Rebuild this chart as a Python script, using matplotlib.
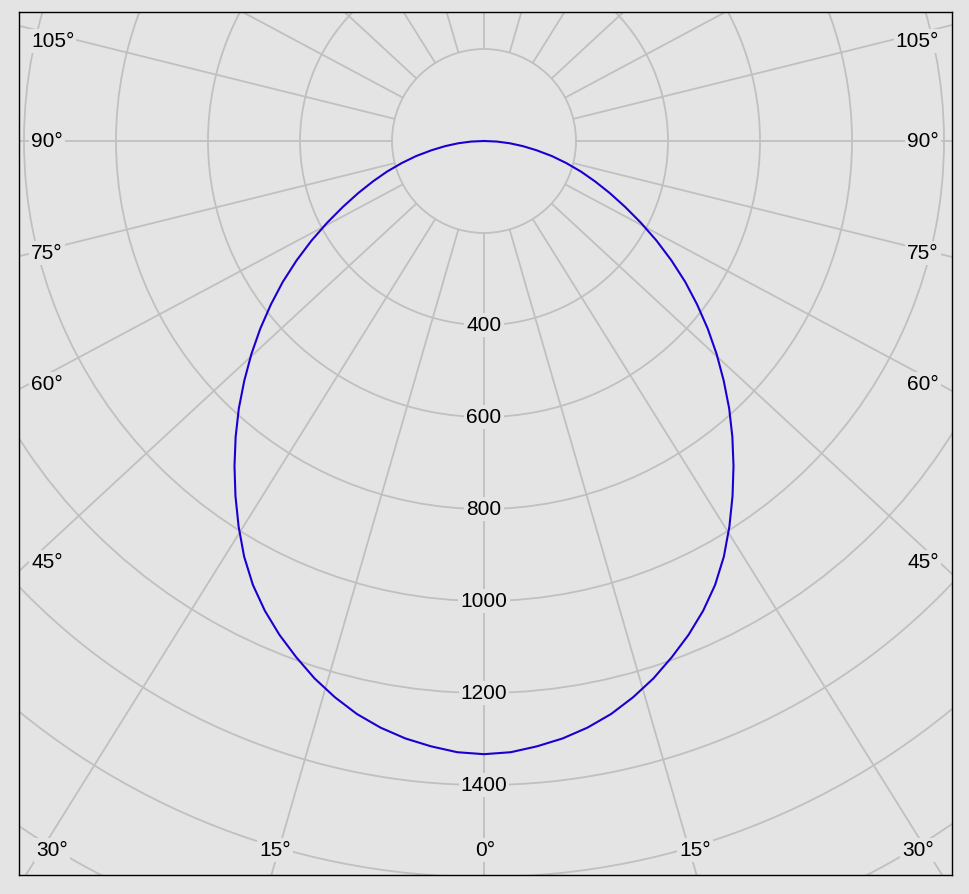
import numpy as np
import matplotlib.pyplot as plt
from matplotlib.patches import Circle

# Luminous intensity distribution (cd), symmetric about 0 deg
gamma = [0, 2.5, 5, 7.5, 10, 12.5, 15, 17.5, 20, 22.5, 25, 27.5, 30, 32.5,
         35, 37.5, 40, 42.5, 45, 47.5, 50, 52.5, 55, 57.5, 60, 62.5, 65,
         67.5, 70, 72.5, 75, 77.5, 80, 82.5, 85, 87.5, 90]
intensity = [1333, 1330, 1321, 1310, 1295, 1276, 1252, 1225, 1194, 1162,
             1127, 1088, 1043, 993, 942, 891, 840, 789, 737, 686, 635, 584,
             534, 483, 433, 384, 338, 296, 257, 221, 185, 151, 116, 85, 56,
             28, 0]

# grid
ring_values = [200, 400, 600, 800, 1000, 1200, 1400, 1600, 1800, 2000]
ring_labels = [400, 600, 800, 1000, 1200, 1400]
spoke_angles = list(range(0, 360, 15))
side_labels = ['105°', '90°', '75°', '60°', '45°']
bottom_labels = ['30°', '15°', '0°', '15°', '30°']

BG = '#e4e4e4'
GRID = '#c0c0c0'
CURVE = '#1a00d0'

W, H = 969, 895
# plot box in pixels: left, right, top, bottom
L, R, T, B = 19, 952, 13, 876
CX, CY = 484, 142          # pixel position of the origin
PX = 200 / 92              # cd per pixel

plt.rcParams['font.family'] = ['Liberation Sans', 'DejaVu Sans']

fig = plt.figure(figsize=(W / 100, H / 100), dpi=100, facecolor=BG)
ax = fig.add_axes([L / W, (H - B) / H, (R - L) / W, (B - T) / H])
ax.set_facecolor(BG)
ax.set_xlim((L - CX) * PX, (R - CX) * PX)
ax.set_ylim(-(B - CY) * PX, (CY - T) * PX)
ax.set_xticks([])
ax.set_yticks([])
for s in ax.spines.values():
    s.set_color('black')
    s.set_linewidth(1.0)
    s.set_zorder(6)

# rings
for r in ring_values:
    ax.add_patch(Circle((0, 0), r, fill=False, ec=GRID, lw=1.3, zorder=1))

# spokes (the source draws them slightly squashed vertically)
squash = 0.925
for a in spoke_angles:
    t = np.radians(a)
    d = np.array([np.sin(t), -squash * np.cos(t)])
    d /= np.hypot(*d)
    ax.plot([200 * d[0], 3000 * d[0]], [200 * d[1], 3000 * d[1]],
            color=GRID, lw=1.3, zorder=1, solid_capstyle='butt')

# curve
g = np.radians(np.array(gamma, dtype=float))
I = np.array(intensity, dtype=float)
gx = np.concatenate([-(I * np.sin(g))[::-1], (I * np.sin(g))[1:]])
gy = np.concatenate([-(I * np.cos(g))[::-1], -(I * np.cos(g))[1:]])
ax.plot(gx, gy, color=CURVE, lw=1.5, zorder=4, solid_joinstyle='round')

box = dict(facecolor=BG, edgecolor='none', pad=1.5)

# ring value labels
for v in ring_labels:
    ax.text(0, -v, str(v), ha='center', va='center', fontsize=15,
            color='black', bbox=box, zorder=3)


def axpos(px, py):
    return (px - L) / (R - L), (B - py) / (B - T)


side_y = [42, 142, 254, 385, 563]
for lab, py in zip(side_labels, side_y):
    ax.text(*axpos(31, py), lab, transform=ax.transAxes, ha='left',
            va='center', fontsize=15, bbox=box, zorder=3)
    ax.text(*axpos(939, py), lab, transform=ax.transAxes, ha='right',
            va='center', fontsize=15, bbox=box, zorder=3)

bottom_x = [52, 275, 485, 695, 918]
for lab, px in zip(bottom_labels, bottom_x):
    ax.text(*axpos(px, 851), lab, transform=ax.transAxes, ha='center',
            va='center', fontsize=15, bbox=box, zorder=3)

fig.savefig('out.png', dpi=100, facecolor=BG)
